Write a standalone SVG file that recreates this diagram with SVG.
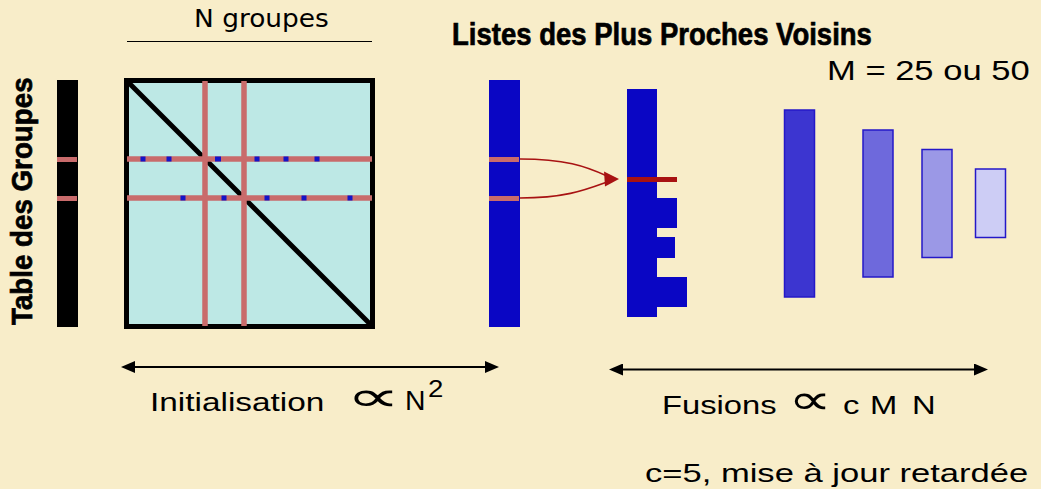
<svg xmlns="http://www.w3.org/2000/svg" width="1041" height="489" viewBox="0 0 1041 489">
  <defs>
    <style>
      .sans { font-family: "Liberation Sans", Arial, sans-serif; fill: #000; }
      .vera { font-family: "DejaVu Sans", sans-serif; fill: #000; }
      .heavy { font-family: "Liberation Sans", Arial, sans-serif; font-weight: bold; fill: #000; stroke: #000; stroke-width: 0.7; }
      .prop { font-family: "DejaVu Sans", sans-serif; fill: #000; }
      .pink { fill: #C96B6B; }
      .pinkline { stroke: #C96B6B; stroke-width: 5.5; }
      .dot { fill: #1414C8; }
      .deep { fill: #0A06C4; }
      .step { stroke: #2418C8; stroke-width: 1.5; }
      .axis { stroke: #000; stroke-width: 2; fill: none; }
      .link { stroke: #A81212; stroke-width: 1.6; fill: none; }
    </style>
    <marker id="blackhead" viewBox="0 0 14 12" refX="2" refY="6" markerWidth="14" markerHeight="12" markerUnits="userSpaceOnUse" orient="auto-start-reverse">
      <path d="M0,0 L14,6 L0,12 z" fill="#000"/>
    </marker>
  </defs>

  <rect width="1041" height="489" fill="#F8EDC9"/>

  <g id="table-groupes">
    <rect x="57" y="80" width="21" height="247" fill="#000"/>
    <rect class="pink" x="57" y="157" width="20" height="5"/>
    <rect class="pink" x="57" y="196" width="20" height="5"/>
    <text class="heavy" transform="translate(32,325) rotate(-90) scale(0.925,1)" font-size="30">Table des Groupes</text>
  </g>

  <g id="matrice">
    <text class="vera" transform="translate(194,27) scale(1.1,1)" font-size="24">N groupes</text>
    <line x1="127" y1="41.5" x2="372" y2="41.5" stroke="#000" stroke-width="1.2"/>
    <rect x="126.5" y="80.5" width="246" height="246" fill="#BDE8E5" stroke="#000" stroke-width="5"/>
    <line x1="128" y1="82" x2="371" y2="325" stroke="#000" stroke-width="5"/>
    <line class="pinkline" x1="205" y1="81" x2="205" y2="326"/>
    <line class="pinkline" x1="244" y1="81" x2="244" y2="326"/>
    <line class="pinkline" x1="127" y1="159" x2="372" y2="159"/>
    <line class="pinkline" x1="127" y1="198" x2="372" y2="198"/>
    <rect class="dot" x="140.5" y="156.5" width="5" height="5"/>
    <rect class="dot" x="166.5" y="156.5" width="5" height="5"/>
    <rect class="dot" x="215" y="156.5" width="6" height="5"/>
    <rect class="dot" x="254.5" y="156.5" width="5" height="5"/>
    <rect class="dot" x="283.5" y="156.5" width="5" height="5"/>
    <rect class="dot" x="314.5" y="156.5" width="5" height="5"/>
    <rect class="dot" x="180.5" y="195.5" width="5" height="5"/>
    <rect class="dot" x="221.5" y="195.5" width="5" height="5"/>
    <rect class="dot" x="264.5" y="195.5" width="5" height="5"/>
    <rect class="dot" x="301.5" y="195.5" width="5" height="5"/>
    <rect class="dot" x="347.5" y="195.5" width="5" height="5"/>
  </g>

  <g id="liste-ppv">
    <rect class="deep" x="489" y="80" width="31" height="247"/>
    <rect class="pink" x="489" y="157" width="30" height="5"/>
    <rect class="pink" x="489" y="196" width="30" height="5"/>
  </g>

  <g id="liste-fusionnee">
    <rect class="deep" x="627" y="89" width="30" height="228"/>
    <rect class="deep" x="656" y="198" width="21" height="30"/>
    <rect class="deep" x="656" y="237" width="19" height="21"/>
    <rect class="deep" x="656" y="277" width="31" height="30"/>
    <rect x="627" y="177" width="50" height="5" fill="#A81212"/>
  </g>

  <g id="listes-reduites">
    <rect class="step" x="784.5" y="110" width="30" height="187" fill="#3C35D0"/>
    <rect class="step" x="863" y="130" width="30" height="147" fill="#6E69DC"/>
    <rect class="step" x="922" y="149.5" width="30" height="108" fill="#9B98E6"/>
    <rect class="step" x="975.5" y="169" width="30" height="68.5" fill="#CDCDF5"/>
  </g>

  <g id="titre">
    <text class="heavy" transform="translate(452,45) scale(0.86,1)" font-size="32">Listes des Plus Proches Voisins</text>
    <text class="sans" transform="translate(827,79.5) scale(1.28,1)" font-size="27">M = 25 ou 50</text>
  </g>

  <g id="connectors">
    <path class="link" d="M520,159 C565,159 585,166 607,176"/>
    <path class="link" d="M520,198 C565,198 585,190 607,182"/>
    <polygon points="619,179 604,171.5 605,186.5" fill="#A81212"/>
    <line class="axis" x1="133" y1="367" x2="487" y2="367" marker-start="url(#blackhead)" marker-end="url(#blackhead)"/>
    <line class="axis" x1="621" y1="369.5" x2="976" y2="369.5" marker-start="url(#blackhead)" marker-end="url(#blackhead)"/>
  </g>

  <g id="initialisation">
    <text class="sans" transform="translate(150,411) scale(1.26,1)" font-size="26.5">Initialisation</text>
    <text class="prop" transform="translate(346,411) scale(1.8,1)" font-size="42">∝</text>
    <text class="sans" transform="translate(405,410) scale(1.05,1)" font-size="27">N</text>
    <text class="sans" transform="translate(428,397) scale(1.15,1)" font-size="24">2</text>
  </g>

  <g id="fusions">
    <text class="sans" transform="translate(662,413.5) scale(1.26,1)" font-size="26">Fusions</text>
    <text class="prop" transform="translate(788,414) scale(1.45,1)" font-size="42">∝</text>
    <text class="sans" transform="translate(843,413.5) scale(1.26,1)" font-size="26">c</text>
    <text class="sans" transform="translate(870,413.5) scale(1.26,1)" font-size="26">M</text>
    <text class="sans" transform="translate(912,413.5) scale(1.26,1)" font-size="26">N</text>
    <text class="sans" transform="translate(645,481.5) scale(1.33,1)" font-size="26">c=5, mise à jour retardée</text>
  </g>
</svg>
